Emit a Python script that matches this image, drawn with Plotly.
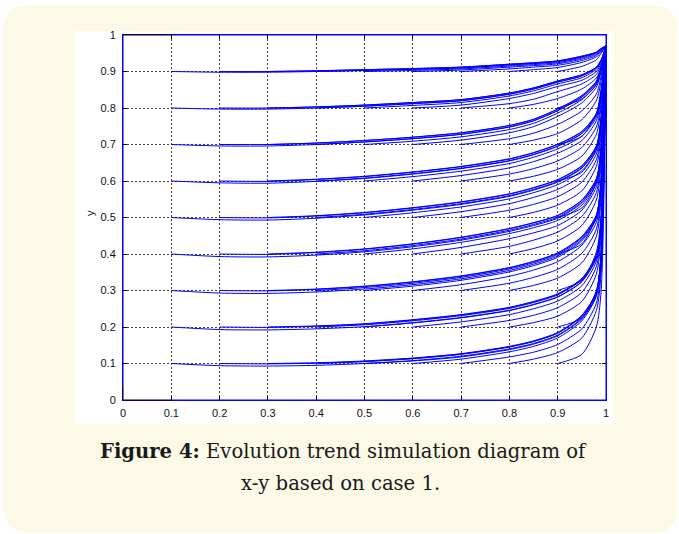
import plotly.graph_objects as go

# x positions where every trajectory is sampled; a curve starting at x0 uses the tail of this grid
X_GRID = [0.1, 0.2, 0.3, 0.4, 0.5, 0.6, 0.7, 0.8, 0.85, 0.9, 0.95, 0.98, 0.99, 1.0]
START_X = [0.1, 0.2, 0.3, 0.4, 0.5, 0.6, 0.7, 0.8, 0.9]

# y values of the trajectories, one family per starting y (0.1 ... 0.9), one row per starting x
CURVES_Y01 = [
    [0.100, 0.094, 0.093, 0.095, 0.100, 0.108, 0.120, 0.140, 0.155, 0.178, 0.225, 0.290, 0.400, 0.97],
    [0.100, 0.099, 0.101, 0.106, 0.114, 0.126, 0.146, 0.161, 0.184, 0.231, 0.295, 0.404, 0.97],
    [0.100, 0.102, 0.107, 0.115, 0.127, 0.147, 0.162, 0.185, 0.232, 0.296, 0.404, 0.97],
    [0.100, 0.105, 0.113, 0.125, 0.145, 0.160, 0.183, 0.230, 0.294, 0.403, 0.97],
    [0.100, 0.107, 0.118, 0.138, 0.153, 0.176, 0.222, 0.287, 0.398, 0.97],
    [0.100, 0.112, 0.132, 0.147, 0.170, 0.217, 0.284, 0.395, 0.97],
    [0.100, 0.118, 0.131, 0.152, 0.195, 0.265, 0.370, 0.97],
    [0.100, 0.112, 0.130, 0.170, 0.245, 0.350, 0.97],
    [0.100, 0.125, 0.200, 0.300, 0.97],
]
CURVES_Y02 = [
    [0.200, 0.193, 0.192, 0.195, 0.201, 0.212, 0.226, 0.246, 0.262, 0.283, 0.325, 0.390, 0.490, 0.97],
    [0.200, 0.199, 0.202, 0.208, 0.219, 0.233, 0.253, 0.269, 0.290, 0.332, 0.396, 0.494, 0.97],
    [0.200, 0.203, 0.209, 0.220, 0.234, 0.254, 0.270, 0.291, 0.333, 0.396, 0.495, 0.97],
    [0.200, 0.206, 0.217, 0.231, 0.251, 0.267, 0.288, 0.330, 0.394, 0.493, 0.97],
    [0.200, 0.211, 0.225, 0.245, 0.261, 0.282, 0.324, 0.389, 0.489, 0.97],
    [0.200, 0.214, 0.234, 0.250, 0.271, 0.313, 0.380, 0.483, 0.97],
    [0.200, 0.218, 0.232, 0.253, 0.295, 0.365, 0.470, 0.97],
    [0.200, 0.212, 0.230, 0.270, 0.345, 0.450, 0.97],
    [0.200, 0.225, 0.300, 0.400, 0.97],
]
CURVES_Y03 = [
    [0.300, 0.293, 0.292, 0.296, 0.304, 0.316, 0.332, 0.355, 0.372, 0.395, 0.440, 0.500, 0.600, 0.97],
    [0.300, 0.299, 0.303, 0.311, 0.323, 0.339, 0.362, 0.379, 0.402, 0.447, 0.506, 0.604, 0.97],
    [0.300, 0.304, 0.312, 0.324, 0.340, 0.363, 0.380, 0.403, 0.448, 0.506, 0.605, 0.97],
    [0.300, 0.308, 0.320, 0.336, 0.359, 0.376, 0.399, 0.444, 0.503, 0.602, 0.97],
    [0.300, 0.312, 0.328, 0.351, 0.368, 0.391, 0.436, 0.497, 0.598, 0.97],
    [0.300, 0.316, 0.339, 0.356, 0.379, 0.424, 0.487, 0.590, 0.97],
    [0.300, 0.320, 0.336, 0.358, 0.402, 0.468, 0.575, 0.97],
    [0.300, 0.314, 0.334, 0.376, 0.448, 0.555, 0.97],
    [0.300, 0.328, 0.405, 0.510, 0.97],
]
CURVES_Y04 = [
    [0.400, 0.393, 0.392, 0.397, 0.406, 0.420, 0.438, 0.462, 0.478, 0.498, 0.540, 0.600, 0.690, 0.97],
    [0.400, 0.399, 0.404, 0.413, 0.427, 0.445, 0.469, 0.485, 0.505, 0.547, 0.606, 0.694, 0.97],
    [0.400, 0.405, 0.414, 0.428, 0.446, 0.470, 0.486, 0.506, 0.548, 0.606, 0.695, 0.97],
    [0.400, 0.409, 0.423, 0.441, 0.465, 0.481, 0.501, 0.543, 0.602, 0.692, 0.97],
    [0.400, 0.414, 0.432, 0.456, 0.472, 0.492, 0.534, 0.595, 0.686, 0.97],
    [0.400, 0.418, 0.442, 0.458, 0.478, 0.520, 0.584, 0.678, 0.97],
    [0.400, 0.421, 0.438, 0.460, 0.503, 0.568, 0.665, 0.97],
    [0.400, 0.415, 0.436, 0.478, 0.548, 0.645, 0.97],
    [0.400, 0.428, 0.503, 0.600, 0.97],
]
CURVES_Y05 = [
    [0.500, 0.494, 0.493, 0.498, 0.507, 0.520, 0.536, 0.558, 0.575, 0.597, 0.635, 0.690, 0.770, 0.97],
    [0.500, 0.499, 0.504, 0.513, 0.526, 0.542, 0.564, 0.581, 0.603, 0.641, 0.695, 0.774, 0.97],
    [0.500, 0.505, 0.514, 0.527, 0.543, 0.565, 0.582, 0.604, 0.642, 0.696, 0.774, 0.97],
    [0.500, 0.509, 0.522, 0.538, 0.560, 0.577, 0.599, 0.637, 0.692, 0.771, 0.97],
    [0.500, 0.513, 0.529, 0.551, 0.568, 0.590, 0.628, 0.684, 0.766, 0.97],
    [0.500, 0.516, 0.538, 0.555, 0.577, 0.615, 0.674, 0.758, 0.97],
    [0.500, 0.520, 0.536, 0.557, 0.597, 0.658, 0.745, 0.97],
    [0.500, 0.514, 0.534, 0.573, 0.640, 0.728, 0.97],
    [0.500, 0.526, 0.595, 0.685, 0.97],
]
CURVES_Y06 = [
    [0.600, 0.595, 0.594, 0.599, 0.607, 0.619, 0.634, 0.655, 0.672, 0.695, 0.730, 0.780, 0.840, 0.97],
    [0.600, 0.599, 0.604, 0.612, 0.624, 0.639, 0.660, 0.677, 0.700, 0.735, 0.784, 0.843, 0.97],
    [0.600, 0.605, 0.613, 0.625, 0.640, 0.661, 0.678, 0.701, 0.736, 0.785, 0.844, 0.97],
    [0.600, 0.608, 0.620, 0.635, 0.656, 0.673, 0.696, 0.731, 0.781, 0.841, 0.97],
    [0.600, 0.612, 0.627, 0.648, 0.665, 0.688, 0.723, 0.774, 0.836, 0.97],
    [0.600, 0.615, 0.636, 0.653, 0.676, 0.711, 0.765, 0.829, 0.97],
    [0.600, 0.619, 0.634, 0.655, 0.692, 0.748, 0.818, 0.97],
    [0.600, 0.613, 0.632, 0.668, 0.728, 0.805, 0.97],
    [0.600, 0.624, 0.688, 0.770, 0.97],
]
CURVES_Y07 = [
    [0.700, 0.696, 0.696, 0.700, 0.707, 0.716, 0.728, 0.748, 0.765, 0.793, 0.830, 0.870, 0.910, 0.97],
    [0.700, 0.700, 0.704, 0.711, 0.720, 0.732, 0.752, 0.769, 0.797, 0.834, 0.873, 0.912, 0.97],
    [0.700, 0.704, 0.711, 0.720, 0.732, 0.752, 0.769, 0.797, 0.834, 0.873, 0.912, 0.97],
    [0.700, 0.707, 0.716, 0.728, 0.748, 0.765, 0.793, 0.830, 0.870, 0.910, 0.97],
    [0.700, 0.709, 0.721, 0.741, 0.758, 0.786, 0.823, 0.864, 0.906, 0.97],
    [0.700, 0.712, 0.732, 0.749, 0.777, 0.814, 0.857, 0.900, 0.97],
    [0.700, 0.716, 0.731, 0.755, 0.792, 0.838, 0.888, 0.97],
    [0.700, 0.712, 0.730, 0.768, 0.820, 0.875, 0.97],
    [0.700, 0.722, 0.785, 0.855, 0.97],
]
CURVES_Y08 = [
    [0.800, 0.797, 0.797, 0.800, 0.805, 0.812, 0.820, 0.838, 0.852, 0.871, 0.888, 0.910, 0.930, 0.97],
    [0.800, 0.800, 0.803, 0.808, 0.815, 0.823, 0.841, 0.855, 0.874, 0.891, 0.912, 0.932, 0.97],
    [0.800, 0.803, 0.808, 0.815, 0.823, 0.841, 0.855, 0.874, 0.891, 0.912, 0.932, 0.97],
    [0.800, 0.805, 0.812, 0.820, 0.838, 0.852, 0.871, 0.888, 0.910, 0.930, 0.97],
    [0.800, 0.807, 0.815, 0.833, 0.847, 0.866, 0.883, 0.906, 0.927, 0.97],
    [0.800, 0.808, 0.826, 0.840, 0.859, 0.876, 0.900, 0.923, 0.97],
    [0.800, 0.812, 0.824, 0.845, 0.866, 0.892, 0.918, 0.97],
    [0.800, 0.810, 0.826, 0.852, 0.882, 0.912, 0.97],
    [0.800, 0.825, 0.865, 0.905, 0.97],
]
CURVES_Y09 = [
    [0.900, 0.898, 0.898, 0.900, 0.903, 0.906, 0.910, 0.918, 0.922, 0.927, 0.940, 0.952, 0.962, 0.97],
    [0.900, 0.900, 0.902, 0.905, 0.908, 0.912, 0.920, 0.924, 0.929, 0.942, 0.953, 0.963, 0.97],
    [0.900, 0.902, 0.905, 0.908, 0.912, 0.920, 0.924, 0.929, 0.942, 0.953, 0.963, 0.97],
    [0.900, 0.903, 0.906, 0.910, 0.918, 0.922, 0.927, 0.940, 0.952, 0.962, 0.97],
    [0.900, 0.903, 0.907, 0.915, 0.919, 0.924, 0.937, 0.950, 0.960, 0.97],
    [0.900, 0.904, 0.912, 0.916, 0.921, 0.934, 0.947, 0.958, 0.97],
    [0.900, 0.907, 0.912, 0.917, 0.930, 0.944, 0.956, 0.97],
    [0.900, 0.905, 0.911, 0.925, 0.940, 0.953, 0.97],
    [0.900, 0.914, 0.932, 0.950, 0.97],
]

# trajectories that start on the border of the unit square and stay on it
EDGE_X = [[0.0, 0.0], [0.1, 1.0], [0.1, 1.0], [1.0, 1.0]]
EDGE_Y = [[1.0, 0.04], [0.0, 0.0], [1.0, 1.0], [0.0, 1.0]]

TICK_VALS = [0, 0.1, 0.2, 0.3, 0.4, 0.5, 0.6, 0.7, 0.8, 0.9, 1]
TICK_TEXT = ['0', '0.1', '0.2', '0.3', '0.4', '0.5', '0.6', '0.7', '0.8', '0.9', '1']

CAPTION_1 = '<b>Figure 4:</b> Evolution trend simulation diagram of'
CAPTION_2 = 'x-y based on case 1.'

W, H = 679, 534
ML, MR, MT, MB = 123, 73, 35, 134
PW, PH = W - ML - MR, H - MT - MB


def px(x):
    return (x - ML) / PW


def py(y):
    return (H - MB - y) / PH


def rounded_rect(x0, y0, x1, y1, r):
    # pixel box -> svg path in paper coords
    a, b, c, d = px(x0), py(y1), px(x1), py(y0)
    rx, ry = r / PW, r / PH
    return (f'M{a + rx},{d} L{c - rx},{d} Q{c},{d} {c},{d - ry} L{c},{b + ry} '
            f'Q{c},{b} {c - rx},{b} L{a + rx},{b} Q{a},{b} {a},{b + ry} '
            f'L{a},{d - ry} Q{a},{d} {a + rx},{d} Z')


fig = go.Figure()

line = dict(color='#0000ff', width=1, shape='spline', smoothing=0.7)
for fam in [CURVES_Y01, CURVES_Y02, CURVES_Y03, CURVES_Y04, CURVES_Y05,
            CURVES_Y06, CURVES_Y07, CURVES_Y08, CURVES_Y09]:
    for x0, row in zip(START_X, fam):
        xs = X_GRID[len(X_GRID) - len(row):]
        fig.add_trace(go.Scatter(x=xs, y=row, mode='lines', line=line,
                                 hoverinfo='skip', showlegend=False))

for xs, ys in zip(EDGE_X, EDGE_Y):
    fig.add_trace(go.Scatter(x=xs, y=ys, mode='lines', line=dict(color='#0000ff', width=1),
                             hoverinfo='skip', showlegend=False))

# black parts of the box that no trajectory covers
box_black = dict(type='line', xref='paper', yref='paper', line=dict(color='black', width=1))
shapes = [
    dict(type='path', path=rounded_rect(3, 5, 678, 533, 28), xref='paper', yref='paper',
         fillcolor='#fdf9e7', line=dict(width=0), layer='below'),
    dict(type='rect', xref='paper', yref='paper', x0=px(75), x1=px(613), y0=py(424), y1=py(31),
         fillcolor='white', line=dict(width=0), layer='below'),
    dict(box_black, x0=0, x1=0.1, y0=0, y1=0),
    dict(box_black, x0=0, x1=0.1, y0=1, y1=1),
    dict(box_black, x0=0, x1=0, y0=0, y1=0.04),
]

axis = dict(range=[0, 1], tickvals=TICK_VALS, ticktext=TICK_TEXT, showline=True, linecolor='#0000ff',
            linewidth=1, mirror='allticks', ticks='inside', ticklen=4, tickcolor='black',
            showgrid=True, gridcolor='#444', gridwidth=1, griddash='2px,2px', zeroline=False,
            layer='below traces',
            tickfont=dict(family='Liberation Sans, Arial', size=11, color='#111'), fixedrange=True)

fig.update_layout(
    width=W, height=H,
    margin=dict(l=ML, r=MR, t=MT, b=MB),
    paper_bgcolor='white', plot_bgcolor='white',
    xaxis=dict(axis, ticklabelstandoff=3),
    yaxis=dict(axis, ticklabelstandoff=4),
    shapes=shapes,
    annotations=[
        dict(text='y', x=px(82), y=py(213), xref='paper', yref='paper', showarrow=False,
             textangle=-90, font=dict(family='Liberation Sans, Arial', size=11, color='#111')),
        dict(text=CAPTION_1, x=px(343), y=py(465), xref='paper', yref='paper', showarrow=False,
             font=dict(family='DejaVu Serif', size=19.6, color='#1a1a1a')),
        dict(text=CAPTION_2, x=px(340), y=py(497), xref='paper', yref='paper', showarrow=False,
             font=dict(family='DejaVu Serif', size=19.6, color='#1a1a1a')),
    ],
)

fig.write_html('out.html', config={'displayModeBar': False},
               post_script="document.body.style.margin='0';")
